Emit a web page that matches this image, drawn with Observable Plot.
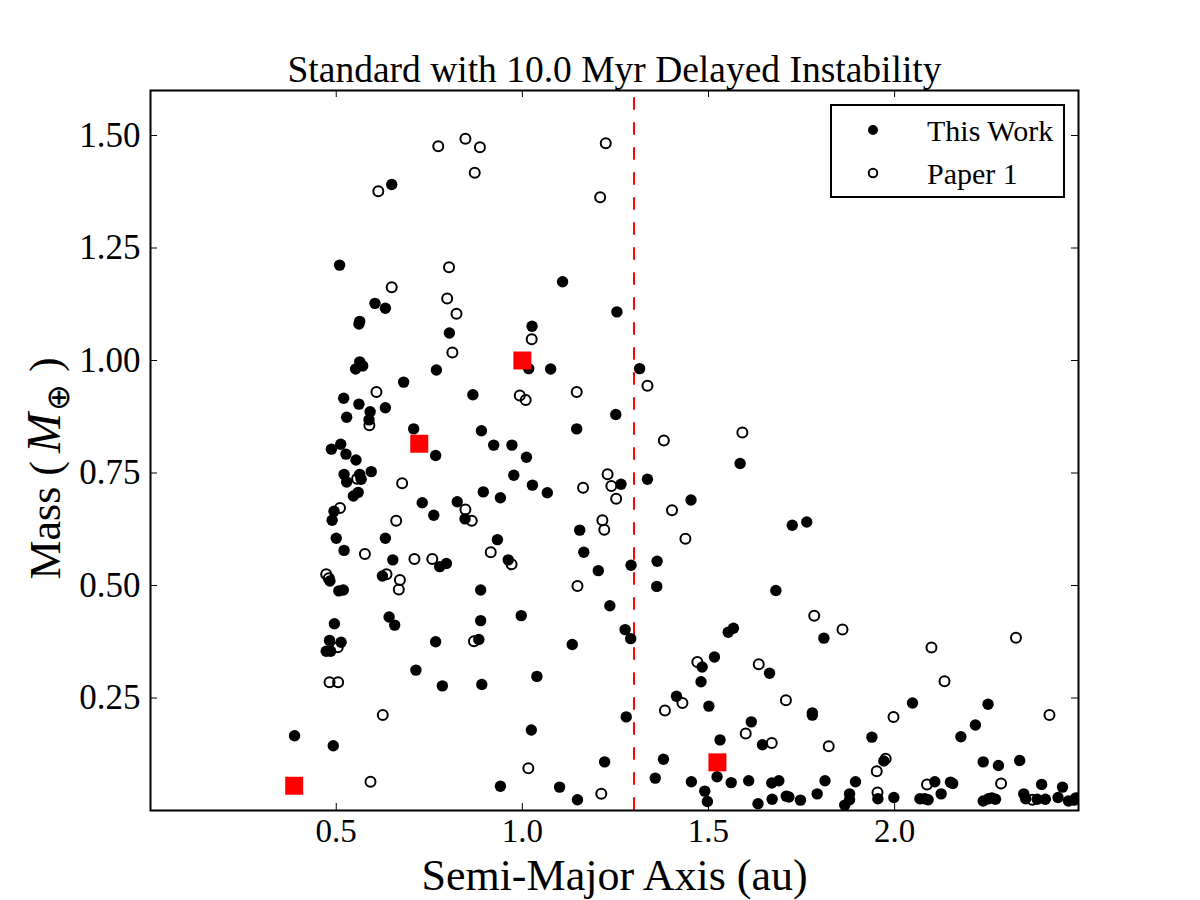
<!DOCTYPE html>
<html>
<head>
<meta charset="utf-8">
<script src="https://cdn.jsdelivr.net/npm/d3@7"></script>
<script src="https://cdn.jsdelivr.net/npm/@observablehq/plot@0.6"></script>
<style>
  body { margin: 0; background: #fff; }
  #fig { position: relative; width: 1200px; height: 900px; font-family: "Liberation Serif", "Times New Roman", serif; }
  #legend { position: absolute; left: 830px; top: 104px; }
</style>
</head>
<body>
<div id="fig"></div>
<script>
// Planets from this work's simulations: semi-major axis (au) and mass (Earth masses)
const thisWorkA = [0.649,0.509,0.604,0.632,0.563,0.561,0.804,1.108,1.254,1.026,
  0.563,0.571,0.552,0.769,0.681,0.520,0.561,0.632,0.591,0.528,
  0.588,0.708,0.767,0.512,0.487,0.526,0.553,0.594,0.521,0.563,
  0.567,0.528,0.559,0.546,0.731,0.825,0.494,0.489,0.762,0.500,
  0.632,0.521,0.652,0.796,0.778,1.017,1.076,1.315,0.867,1.251,
  0.890,1.146,1.585,0.923,0.972,1.011,0.977,1.265,1.336,1.027,
  0.895,1.067,0.941,1.453,0.846,1.154,0.933,1.165,0.962,1.204,
  1.292,1.362,1.725,1.764,0.483,0.507,0.519,0.624,0.495,0.642,
  0.657,0.767,0.482,0.513,0.473,0.485,0.714,0.785,0.388,0.492,
  0.888,1.361,1.235,0.888,0.997,0.883,1.134,1.276,1.291,1.553,
  1.567,1.516,1.483,1.664,0.891,1.039,1.480,1.414,1.501,1.279,
  1.024,1.615,1.531,1.645,1.221,1.379,1.357,1.523,1.454,1.561,
  1.608,0.941,1.100,1.148,1.490,1.497,1.633,1.681,1.810,1.779,
  1.779,2.048,2.251,1.939,2.178,2.217,1.971,2.238,2.279,2.336,
  1.689,1.670,1.813,1.895,1.792,1.879,1.879,1.866,1.955,1.998,
  1.709,1.716,1.747,1.671,2.108,2.150,2.156,2.125,2.068,2.081,
  2.090,2.238,2.252,2.261,2.271,2.395,2.451,2.347,2.352,2.383,
  2.405,2.439,2.467,2.482,2.487];
const thisWorkM = [1.391,1.212,1.127,1.116,1.087,1.081,1.061,1.175,1.108,1.076,
  0.997,0.988,0.981,0.979,0.952,0.916,0.903,0.895,0.886,0.874,
  0.868,0.848,0.789,0.814,0.803,0.792,0.779,0.753,0.747,0.747,
  0.736,0.730,0.707,0.699,0.684,0.686,0.665,0.645,0.656,0.605,
  0.605,0.578,0.557,0.549,0.542,0.982,0.981,0.982,0.924,0.880,
  0.844,0.848,0.771,0.812,0.812,0.785,0.745,0.725,0.736,0.723,
  0.708,0.706,0.695,0.690,0.648,0.623,0.602,0.574,0.557,0.533,
  0.545,0.554,0.634,0.641,0.510,0.488,0.490,0.521,0.415,0.430,
  0.412,0.375,0.378,0.374,0.354,0.354,0.312,0.277,0.166,0.144,
  0.490,0.498,0.455,0.422,0.433,0.380,0.369,0.402,0.382,0.396,
  0.405,0.341,0.319,0.305,0.280,0.298,0.286,0.254,0.232,0.208,
  0.179,0.197,0.157,0.146,0.108,0.114,0.072,0.075,0.064,0.062,
  0.066,0.054,0.052,0.024,0.043,0.020,0.015,0.489,0.383,0.217,
  0.212,0.239,0.236,0.163,0.164,0.190,0.110,0.108,0.100,0.111,
  0.066,0.061,0.066,0.064,0.037,0.037,0.024,0.012,0.026,0.029,
  0.032,0.030,0.023,0.025,0.064,0.063,0.060,0.037,0.026,0.026,
  0.024,0.021,0.026,0.028,0.025,0.058,0.052,0.037,0.026,0.025,
  0.025,0.029,0.021,0.023,0.028];

// Planets from Paper 1
const paper1A = [0.774,0.847,0.886,0.872,1.224,1.209,0.613,0.803,0.649,0.798,
  0.823,0.812,1.025,0.608,0.589,1.336,0.993,1.009,1.146,1.380,
  1.591,0.556,0.677,0.510,0.661,0.577,0.710,0.758,0.473,0.480,
  0.635,0.671,0.668,1.229,1.239,1.163,1.252,0.847,0.864,1.402,
  1.215,1.220,1.438,0.915,0.971,1.148,0.504,0.482,0.505,0.625,
  0.592,0.870,1.470,1.635,1.430,1.383,1.600,1.670,1.016,1.212,
  1.784,1.860,2.099,2.326,2.134,1.708,1.997,2.416,1.823,1.976,
  1.952,2.286,1.954,2.087,2.370];
const paper1M = [1.476,1.493,1.474,1.417,1.483,1.363,1.376,1.207,1.163,1.138,
  1.104,1.018,1.047,0.930,0.856,0.944,0.922,0.912,0.930,0.822,
  0.840,0.737,0.727,0.672,0.644,0.570,0.559,0.559,0.525,0.516,
  0.525,0.512,0.491,0.747,0.721,0.717,0.693,0.669,0.644,0.667,
  0.645,0.624,0.604,0.574,0.547,0.499,0.363,0.285,0.285,0.212,
  0.064,0.376,0.330,0.325,0.239,0.222,0.171,0.150,0.094,0.037,
  0.433,0.402,0.362,0.384,0.287,0.245,0.208,0.212,0.143,0.115,
  0.087,0.060,0.040,0.058,0.024];

// Solar System terrestrial planets
const solarNames = ["Mercury", "Venus", "Earth", "Mars"];
const solarA = [0.387, 0.723, 1.000, 1.524];
const solarM = [0.055, 0.815, 1.000, 0.107];

// Instability boundary
const cutoffA = [1.3];

const xTicks = [0.5, 1.0, 1.5, 2.0];
const yTicks = [0.25, 0.50, 0.75, 1.00, 1.25, 1.50];

const thisWork = thisWorkA.map((a, i) => ({a, m: thisWorkM[i]}));
const paper1 = paper1A.map((a, i) => ({a, m: paper1M[i]}));
const solar = solarNames.map((name, i) => ({name, a: solarA[i], m: solarM[i]}));

const W = 1200, H = 900, ML = 150, MR = 122, MT = 90, MB = 90;
const innerW = W - ML - MR, innerH = H - MT - MB;
const tickLen = 7;

const chart = Plot.plot({
  width: W,
  height: H,
  marginLeft: ML,
  marginRight: MR,
  marginTop: MT,
  marginBottom: MB,
  style: {fontFamily: "'Liberation Serif', 'Times New Roman', serif", color: "#000", background: "#fff"},
  x: {domain: [0.001, 2.494]},
  y: {domain: [0, 1.6]},
  marks: [
    Plot.ruleX(cutoffA, {x: d => d, stroke: "#ff0000", strokeWidth: 2, strokeDasharray: "12.5,12.5", strokeDashoffset: 17.7}),
    Plot.dot(paper1, {x: "a", y: "m", r: 5, stroke: "#000", strokeWidth: 2, fill: "none", clip: true}),
    Plot.dot(thisWork, {x: "a", y: "m", r: 5.7, fill: "#000", stroke: "none", clip: true}),
    Plot.dot(solar, {x: "a", y: "m", symbol: "square", r: 10.15, fill: "#ff0000", stroke: "none", clip: true}),
    // inward ticks on all four sides
    Plot.tickX(xTicks, {x: d => d, insetTop: innerH - tickLen, stroke: "#000", strokeWidth: 1}),
    Plot.tickX(xTicks, {x: d => d, insetBottom: innerH - tickLen, stroke: "#000", strokeWidth: 1}),
    Plot.tickY(yTicks, {y: d => d, insetRight: innerW - tickLen, stroke: "#000", strokeWidth: 1}),
    Plot.tickY(yTicks, {y: d => d, insetLeft: innerW - tickLen, stroke: "#000", strokeWidth: 1}),
    Plot.axisX({ticks: xTicks, tickFormat: d3.format(".1f"), tickSize: 0, tickPadding: 8, fontSize: 33, label: null}),
    Plot.axisY({ticks: yTicks, tickFormat: d3.format(".2f"), tickSize: 0, tickPadding: 10, fontSize: 35, label: null}),
    Plot.frame({stroke: "#000", strokeWidth: 2}),
    Plot.text(["Standard with 10.0 Myr Delayed Instability"], {frameAnchor: "top", dy: -35, fontSize: 37.5, fill: "#000"}),
    Plot.text(["Semi-Major Axis (au)"], {frameAnchor: "bottom", dy: 79, fontSize: 44, fill: "#000"}),
    Plot.text(["Mass (M)"], {frameAnchor: "left", dx: -105, rotate: -90, textAnchor: "middle", fontSize: 44, fill: "#000", className: "ylab"})
  ]
});

// Mass label with italic M and a subscript Earth symbol
const ylab = d3.select(chart).select(".ylab text");
ylab.text(null).attr("text-anchor", "middle").attr("x", -18);
ylab.append("tspan").text("Mass (");
ylab.append("tspan").attr("dx", 8).attr("font-style", "italic").attr("font-size", 48).text("M");
ylab.append("tspan").attr("dx", 2).attr("font-size", 32).attr("dy", 9).text("\u2295");
ylab.append("tspan").attr("dx", 12).attr("dy", -9).text(")");

const fig = document.getElementById("fig");
fig.appendChild(chart);

// Legend box
const legend = d3.select(fig).append("svg")
  .attr("id", "legend")
  .attr("width", 235)
  .attr("height", 94)
  .style("font-family", "'Liberation Serif', 'Times New Roman', serif");
legend.append("rect").attr("x", 1).attr("y", 1).attr("width", 233).attr("height", 92)
  .attr("fill", "#fff").attr("stroke", "#000").attr("stroke-width", 2);
const entries = [
  {label: "This Work", filled: true},
  {label: "Paper 1", filled: false}
];
entries.forEach((e, i) => {
  const cy = 26 + i * 43;
  legend.append("circle").attr("cx", 43).attr("cy", cy).attr("r", e.filled ? 5 : 4.3)
    .attr("fill", e.filled ? "#000" : "none").attr("stroke", "#000").attr("stroke-width", e.filled ? 0 : 2);
  legend.append("text").attr("x", 97).attr("y", cy).attr("dy", "0.35em")
    .attr("font-size", 30).attr("fill", "#000").text(e.label);
});
</script>
</body>
</html>
